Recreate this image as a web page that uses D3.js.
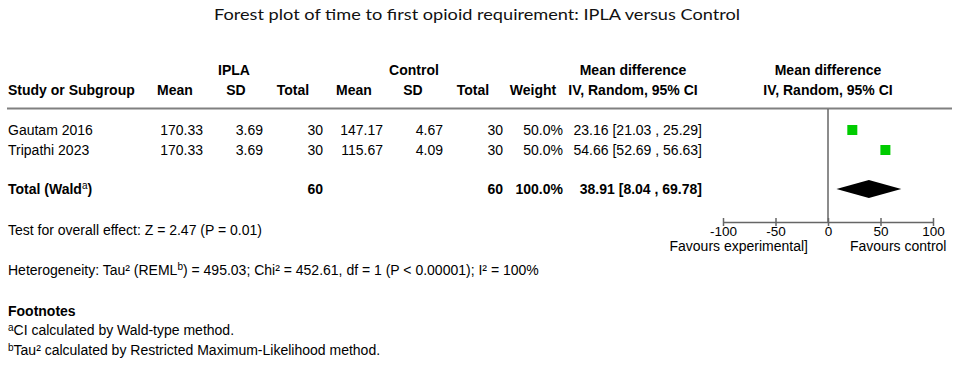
<!DOCTYPE html>
<html>
<head>
<meta charset="utf-8">
<script src="https://d3js.org/d3.v7.min.js"></script>
<style>
    body { margin: 0; background: #fff; }
    text { font-family: "Liberation Sans", Arial, sans-serif; font-size: 14px; fill: #000; }
    .bold { font-weight: bold; }
    .title { font-family: Lato, "Open Sans", sans-serif; font-size: 15.5px; fill: #111; }
</style>
</head>
<body>
<script>
    var studies = ["Gautam 2016", "Tripathi 2023"];
    var iplaMean = [170.33, 170.33];
    var iplaSD = [3.69, 3.69];
    var iplaTotal = [30, 30];
    var ctrlMean = [147.17, 115.67];
    var ctrlSD = [4.67, 4.09];
    var ctrlTotal = [30, 30];
    var weights = [50.0, 50.0];
    var md = [23.16, 54.66];
    var ciLow = [21.03, 52.69];
    var ciHigh = [25.29, 56.63];

    var pooled = {md: 38.91, lo: 8.04, hi: 69.78, weight: 100.0, nIpla: 60, nCtrl: 60};
    var axisTicks = [-100, -50, 0, 50, 100];

    var width = 953, height = 366;

    var svg = d3.select("body").append("svg")
        .attr("width", width)
        .attr("height", height);

    // forest plot x scale
    var x = d3.scaleLinear().domain([-100, 100]).range([723, 933]);

    // row positions (centre of text line)
    var rowY = d3.scalePoint().domain(studies).range([130, 150]);
    var totalY = 189;
    var axisY = 222;

    function fmt2(v) { return d3.format(".2f")(v); }

    // title
    svg.append("text")
        .attr("class", "title")
        .attr("x", 477)
        .attr("y", 20)
        .attr("text-anchor", "middle")
        .attr("textLength", 526)
        .attr("lengthAdjust", "spacingAndGlyphs")
        .text("Forest plot of time to first opioid requirement: IPLA versus Control");

    // header
    var head = svg.append("g");
    function htext(txt, xPos, yPos, anchor) {
        head.append("text")
            .attr("class", "bold")
            .attr("x", xPos)
            .attr("y", yPos)
            .attr("text-anchor", anchor || "middle")
            .text(txt);
    }
    htext("IPLA", 234, 75);
    htext("Control", 414, 75);
    htext("Mean difference", 633, 75);
    htext("Mean difference", 828, 75);
    htext("Study or Subgroup", 8, 95, "start");
    htext("Mean", 175, 95);
    htext("SD", 236, 95);
    htext("Total", 293, 95);
    htext("Mean", 354, 95);
    htext("SD", 413, 95);
    htext("Total", 473, 95);
    htext("Weight", 533, 95);
    htext("IV, Random, 95% CI", 633, 95);
    htext("IV, Random, 95% CI", 828, 95);

    svg.append("line")
        .attr("x1", 7).attr("x2", 952)
        .attr("y1", 108.5).attr("y2", 108.5)
        .attr("stroke", "#808080")
        .attr("stroke-width", 2);

    // zero line
    svg.append("line")
        .attr("x1", x(0)).attr("x2", x(0))
        .attr("y1", 109).attr("y2", axisY)
        .attr("stroke", "#666")
        .attr("stroke-width", 1.5);

    // study rows
    var cols = [
        {x: 203, f: function (i) { return fmt2(iplaMean[i]); }},
        {x: 263, f: function (i) { return fmt2(iplaSD[i]); }},
        {x: 323, f: function (i) { return iplaTotal[i]; }},
        {x: 383, f: function (i) { return fmt2(ctrlMean[i]); }},
        {x: 443, f: function (i) { return fmt2(ctrlSD[i]); }},
        {x: 503, f: function (i) { return ctrlTotal[i]; }},
        {x: 563, f: function (i) { return weights[i].toFixed(1) + "%"; }},
        {x: 702, f: function (i) { return fmt2(md[i]) + " [" + fmt2(ciLow[i]) + " , " + fmt2(ciHigh[i]) + "]"; }}
    ];

    var rows = svg.selectAll(".row")
        .data(studies)
        .enter().append("g")
        .attr("class", "row")
        .attr("transform", function (d) { return "translate(0," + (rowY(d) + 5) + ")"; });

    rows.append("text")
        .attr("x", 8)
        .text(function (d) { return d; });

    cols.forEach(function (c) {
        rows.append("text")
            .attr("x", c.x)
            .attr("text-anchor", "end")
            .text(function (d, i) { return c.f(i); });
    });

    // squares
    svg.selectAll(".sq")
        .data(studies)
        .enter().append("rect")
        .attr("class", "sq")
        .attr("x", function (d, i) { return x(md[i]) - 5; })
        .attr("y", function (d) { return rowY(d) - 5; })
        .attr("width", 10)
        .attr("height", 10)
        .attr("fill", "#00cc00");

    // total row
    var tot = svg.append("g").attr("transform", "translate(0," + (totalY + 5) + ")");
    var tl = tot.append("text").attr("class", "bold").attr("x", 8);
    tl.append("tspan").text("Total (Wald");
    tl.append("tspan").attr("dy", -5).style("font-size", "10px").style("font-weight", "normal").text("a");
    tl.append("tspan").attr("dy", 5).text(")");
    tot.append("text").attr("class", "bold").attr("x", 323).attr("text-anchor", "end").text(pooled.nIpla);
    tot.append("text").attr("class", "bold").attr("x", 503).attr("text-anchor", "end").text(pooled.nCtrl);
    tot.append("text").attr("class", "bold").attr("x", 563).attr("text-anchor", "end").text(pooled.weight.toFixed(1) + "%");
    tot.append("text").attr("class", "bold").attr("x", 702).attr("text-anchor", "end")
        .text(fmt2(pooled.md) + " [" + fmt2(pooled.lo) + " , " + fmt2(pooled.hi) + "]");

    // diamond
    svg.append("path")
        .attr("d", "M" + x(pooled.lo) + "," + totalY +
            "L" + x(pooled.md) + "," + (totalY - 9) +
            "L" + x(pooled.hi) + "," + totalY +
            "L" + x(pooled.md) + "," + (totalY + 9) + "Z")
        .attr("fill", "#000");

    // axis
    var axis = svg.append("g")
        .attr("transform", "translate(0," + axisY + ")")
        .call(d3.axisBottom(x).tickValues(axisTicks).tickSize(0).tickPadding(4)
            .tickFormat(function (d) { return String(d); }));
    axis.select(".domain").attr("stroke", "#666").attr("stroke-width", 1.5);
    axis.selectAll(".tick text")
        .style("font-family", "'Liberation Sans', Arial, sans-serif")
        .style("font-size", "13.5px")
        .attr("fill", "#000");
    axis.selectAll(".tick").append("line")
        .attr("y1", -4).attr("y2", 4)
        .attr("stroke", "#666")
        .attr("stroke-width", 1.5);

    svg.append("text").attr("x", 808).attr("y", 251).attr("text-anchor", "end").text("Favours experimental]");
    svg.append("text").attr("x", 850).attr("y", 251).text("Favours control");

    // bottom notes
    svg.append("text").attr("x", 8).attr("y", 235).text("Test for overall effect: Z = 2.47 (P = 0.01)");

    var het = svg.append("text").attr("x", 8).attr("y", 275);
    het.append("tspan").text("Heterogeneity: Tau² (REML");
    het.append("tspan").attr("dy", -5).style("font-size", "10px").text("b");
    het.append("tspan").attr("dy", 5).text(") = 495.03; Chi² = 452.61, df = 1 (P < 0.00001); I² = 100%");

    svg.append("text").attr("class", "bold").attr("x", 8).attr("y", 316).text("Footnotes");

    var fa = svg.append("text").attr("x", 8).attr("y", 335);
    fa.append("tspan").attr("dy", -4).style("font-size", "10px").text("a");
    fa.append("tspan").attr("dy", 4).text("CI calculated by Wald-type method.");

    var fb = svg.append("text").attr("x", 8).attr("y", 355);
    fb.append("tspan").attr("dy", -4).style("font-size", "10px").text("b");
    fb.append("tspan").attr("dy", 4).text("Tau² calculated by Restricted Maximum-Likelihood method.");
</script>
</body>
</html>
